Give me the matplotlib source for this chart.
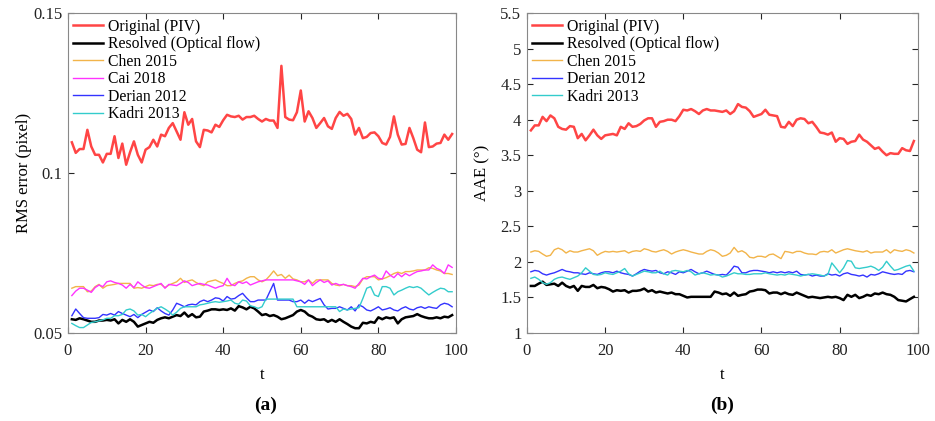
import matplotlib
matplotlib.use("Agg")
from matplotlib import pyplot as plt

plt.rcParams["font.family"] = ["Liberation Serif", "DejaVu Serif"]
plt.rcParams["font.size"] = 11

t = list(range(1, 100))

# ---- (a) RMS error ----
rms_piv = [0.1096, 0.1063, 0.1075, 0.1075, 0.1135, 0.1083, 0.1057, 0.1057, 0.1033, 0.1060,
           0.1060, 0.1115, 0.1047, 0.1092, 0.1026, 0.1065, 0.1099, 0.1057, 0.1033, 0.1073,
           0.1081, 0.1104, 0.1083, 0.1120, 0.1115, 0.1141, 0.1156, 0.1130, 0.1104, 0.1190,
           0.1151, 0.1169, 0.1099, 0.1081, 0.1135, 0.1133, 0.1127, 0.1151, 0.1144, 0.1165,
           0.1182, 0.1177, 0.1175, 0.1179, 0.1167, 0.1175, 0.1175, 0.1179, 0.1169, 0.1161,
           0.1169, 0.1164, 0.1164, 0.1141, 0.1335, 0.1175, 0.1167, 0.1165, 0.1190, 0.1258,
           0.1161, 0.1193, 0.1172, 0.1141, 0.1156, 0.1172, 0.1146, 0.1138, 0.1172, 0.1191,
           0.1179, 0.1185, 0.1169, 0.1120, 0.1141, 0.1109, 0.1113, 0.1125, 0.1127, 0.1115,
           0.1094, 0.1089, 0.1113, 0.1177, 0.1120, 0.1089, 0.1091, 0.1141, 0.1109, 0.1073,
           0.1065, 0.1158, 0.1081, 0.1083, 0.1092, 0.1094, 0.1120, 0.1104, 0.1122]
rms_of = [0.0543, 0.0541, 0.0546, 0.0543, 0.0539, 0.0535, 0.0535, 0.0539, 0.0539, 0.0541,
          0.0539, 0.0543, 0.0530, 0.0541, 0.0535, 0.0543, 0.0535, 0.0520, 0.0525, 0.0530,
          0.0535, 0.0532, 0.0541, 0.0546, 0.0549, 0.0546, 0.0551, 0.0556, 0.0553, 0.0564,
          0.0551, 0.0559, 0.0549, 0.0551, 0.0567, 0.0570, 0.0574, 0.0574, 0.0572, 0.0574,
          0.0572, 0.0577, 0.0570, 0.0584, 0.0580, 0.0574, 0.0582, 0.0577, 0.0567, 0.0556,
          0.0559, 0.0553, 0.0556, 0.0551, 0.0543, 0.0546, 0.0551, 0.0556, 0.0567, 0.0572,
          0.0567, 0.0556, 0.0551, 0.0543, 0.0541, 0.0543, 0.0535, 0.0541, 0.0535, 0.0543,
          0.0535, 0.0528, 0.0520, 0.0515, 0.0515, 0.0532, 0.0530, 0.0535, 0.0532, 0.0549,
          0.0543, 0.0549, 0.0546, 0.0549, 0.0530, 0.0543, 0.0549, 0.0551, 0.0553, 0.0559,
          0.0553, 0.0549, 0.0546, 0.0546, 0.0549, 0.0546, 0.0551, 0.0549, 0.0556]
rms_chen = [0.0640, 0.0645, 0.0645, 0.0645, 0.0629, 0.0631, 0.0645, 0.0652, 0.0640, 0.0648,
            0.0650, 0.0652, 0.0655, 0.0655, 0.0655, 0.0655, 0.0640, 0.0642, 0.0640, 0.0645,
            0.0650, 0.0648, 0.0652, 0.0652, 0.0642, 0.0650, 0.0655, 0.0660, 0.0671, 0.0658,
            0.0663, 0.0666, 0.0658, 0.0652, 0.0648, 0.0660, 0.0663, 0.0666, 0.0660, 0.0655,
            0.0648, 0.0648, 0.0655, 0.0660, 0.0663, 0.0671, 0.0676, 0.0676, 0.0666, 0.0660,
            0.0666, 0.0679, 0.0694, 0.0679, 0.0683, 0.0671, 0.0681, 0.0669, 0.0666, 0.0660,
            0.0660, 0.0666, 0.0655, 0.0666, 0.0666, 0.0666, 0.0666, 0.0655, 0.0650, 0.0648,
            0.0652, 0.0648, 0.0648, 0.0645, 0.0650, 0.0669, 0.0676, 0.0676, 0.0676, 0.0666,
            0.0669, 0.0673, 0.0679, 0.0686, 0.0690, 0.0686, 0.0692, 0.0692, 0.0694, 0.0697,
            0.0697, 0.0697, 0.0704, 0.0702, 0.0697, 0.0694, 0.0686, 0.0686, 0.0683]
rms_cai = [0.0617, 0.0631, 0.0640, 0.0640, 0.0634, 0.0627, 0.0642, 0.0650, 0.0645, 0.0660,
           0.0663, 0.0658, 0.0655, 0.0650, 0.0640, 0.0652, 0.0642, 0.0660, 0.0650, 0.0642,
           0.0640, 0.0645, 0.0650, 0.0655, 0.0640, 0.0652, 0.0650, 0.0648, 0.0655, 0.0663,
           0.0658, 0.0648, 0.0652, 0.0655, 0.0652, 0.0650, 0.0645, 0.0640, 0.0645, 0.0648,
           0.0671, 0.0652, 0.0648, 0.0660, 0.0655, 0.0660, 0.0650, 0.0655, 0.0660, 0.0663,
           0.0666, 0.0666, 0.0666, 0.0666, 0.0666, 0.0666, 0.0666, 0.0666, 0.0663, 0.0660,
           0.0652, 0.0666, 0.0648, 0.0658, 0.0666, 0.0658, 0.0663, 0.0650, 0.0655, 0.0650,
           0.0652, 0.0648, 0.0645, 0.0640, 0.0655, 0.0671, 0.0669, 0.0676, 0.0681, 0.0671,
           0.0669, 0.0694, 0.0681, 0.0673, 0.0686, 0.0676, 0.0686, 0.0679, 0.0686, 0.0692,
           0.0694, 0.0697, 0.0697, 0.0713, 0.0702, 0.0697, 0.0686, 0.0713, 0.0705]
rms_derian = [0.0554, 0.0575, 0.0561, 0.0548, 0.0546, 0.0546, 0.0546, 0.0548, 0.0558, 0.0556,
              0.0561, 0.0556, 0.0567, 0.0561, 0.0556, 0.0551, 0.0558, 0.0548, 0.0558, 0.0565,
              0.0572, 0.0567, 0.0579, 0.0569, 0.0561, 0.0556, 0.0572, 0.0593, 0.0588, 0.0582,
              0.0588, 0.0590, 0.0588, 0.0598, 0.0603, 0.0598, 0.0603, 0.0610, 0.0608, 0.0600,
              0.0614, 0.0606, 0.0608, 0.0617, 0.0624, 0.0610, 0.0598, 0.0598, 0.0603, 0.0603,
              0.0603, 0.0629, 0.0655, 0.0603, 0.0603, 0.0603, 0.0603, 0.0598, 0.0598, 0.0603,
              0.0593, 0.0603, 0.0598, 0.0603, 0.0608, 0.0588, 0.0575, 0.0577, 0.0577, 0.0582,
              0.0577, 0.0572, 0.0582, 0.0569, 0.0588, 0.0582, 0.0572, 0.0569, 0.0575, 0.0582,
              0.0572, 0.0575, 0.0579, 0.0572, 0.0569, 0.0577, 0.0582, 0.0575, 0.0572, 0.0579,
              0.0582, 0.0577, 0.0582, 0.0579, 0.0577, 0.0588, 0.0593, 0.0590, 0.0582]
rms_kadri = [0.0530, 0.0523, 0.0517, 0.0517, 0.0525, 0.0533, 0.0535, 0.0538, 0.0541, 0.0546,
             0.0546, 0.0554, 0.0554, 0.0558, 0.0572, 0.0575, 0.0569, 0.0556, 0.0558, 0.0551,
             0.0561, 0.0569, 0.0577, 0.0582, 0.0575, 0.0567, 0.0556, 0.0565, 0.0577, 0.0582,
             0.0582, 0.0582, 0.0582, 0.0588, 0.0590, 0.0593, 0.0596, 0.0598, 0.0596, 0.0598,
             0.0600, 0.0603, 0.0593, 0.0590, 0.0603, 0.0600, 0.0585, 0.0582, 0.0577, 0.0582,
             0.0606, 0.0606, 0.0606, 0.0606, 0.0606, 0.0606, 0.0606, 0.0606, 0.0582, 0.0582,
             0.0582, 0.0582, 0.0582, 0.0582, 0.0582, 0.0582, 0.0582, 0.0582, 0.0582, 0.0567,
             0.0575, 0.0572, 0.0575, 0.0577, 0.0579, 0.0608, 0.0640, 0.0645, 0.0619, 0.0614,
             0.0645, 0.0645, 0.0640, 0.0619, 0.0629, 0.0634, 0.0640, 0.0645, 0.0642, 0.0645,
             0.0640, 0.0629, 0.0619, 0.0627, 0.0634, 0.0640, 0.0638, 0.0629, 0.0629]

# ---- (b) AAE ----
aae_piv = [3.85, 3.92, 3.92, 4.04, 3.98, 4.06, 4.02, 3.90, 3.87, 3.86,
           3.91, 3.90, 3.74, 3.80, 3.71, 3.78, 3.86, 3.78, 3.73, 3.78,
           3.79, 3.80, 3.78, 3.90, 3.87, 3.95, 3.90, 3.91, 3.94, 3.99,
           4.02, 4.02, 3.90, 3.97, 3.98, 4.00, 4.00, 3.98, 4.05, 4.14,
           4.13, 4.15, 4.12, 4.08, 4.13, 4.15, 4.13, 4.13, 4.12, 4.11,
           4.13, 4.08, 4.12, 4.22, 4.18, 4.17, 4.12, 4.04, 4.06, 4.08,
           4.14, 4.07, 4.06, 4.05, 3.90, 3.89, 3.97, 3.91, 4.00, 4.02,
           4.01, 3.95, 3.97, 3.90, 3.82, 3.81, 3.79, 3.82, 3.69, 3.74,
           3.73, 3.66, 3.69, 3.70, 3.79, 3.72, 3.69, 3.64, 3.59, 3.61,
           3.55, 3.50, 3.53, 3.52, 3.52, 3.60, 3.57, 3.56, 3.70]
aae_of = [1.662, 1.662, 1.694, 1.722, 1.676, 1.685, 1.694, 1.662, 1.708, 1.662,
          1.639, 1.662, 1.593, 1.662, 1.648, 1.648, 1.676, 1.630, 1.648, 1.639,
          1.616, 1.583, 1.602, 1.593, 1.602, 1.569, 1.593, 1.593, 1.602, 1.625,
          1.583, 1.602, 1.569, 1.583, 1.569, 1.556, 1.569, 1.546, 1.546, 1.523,
          1.500, 1.509, 1.509, 1.509, 1.509, 1.509, 1.509, 1.583, 1.569, 1.546,
          1.556, 1.523, 1.569, 1.523, 1.537, 1.546, 1.583, 1.593, 1.611, 1.611,
          1.602, 1.556, 1.569, 1.569, 1.546, 1.569, 1.546, 1.537, 1.569, 1.546,
          1.523, 1.500, 1.509, 1.500, 1.491, 1.500, 1.509, 1.500, 1.509, 1.491,
          1.463, 1.537, 1.509, 1.537, 1.491, 1.509, 1.537, 1.523, 1.556, 1.546,
          1.569, 1.546, 1.537, 1.509, 1.463, 1.454, 1.444, 1.477, 1.509]
aae_chen = [2.139, 2.157, 2.148, 2.111, 2.079, 2.093, 2.171, 2.194, 2.171, 2.125,
            2.157, 2.139, 2.139, 2.157, 2.171, 2.185, 2.157, 2.093, 2.125, 2.148,
            2.139, 2.148, 2.139, 2.148, 2.157, 2.125, 2.148, 2.157, 2.148, 2.185,
            2.171, 2.148, 2.139, 2.157, 2.171, 2.148, 2.111, 2.139, 2.157, 2.171,
            2.157, 2.139, 2.125, 2.111, 2.111, 2.148, 2.171, 2.157, 2.125, 2.079,
            2.093, 2.125, 2.204, 2.139, 2.157, 2.125, 2.065, 2.056, 2.079, 2.079,
            2.065, 2.102, 2.111, 2.079, 2.046, 2.148, 2.139, 2.125, 2.148, 2.148,
            2.125, 2.111, 2.111, 2.102, 2.139, 2.148, 2.139, 2.171, 2.125, 2.148,
            2.171, 2.185, 2.171, 2.157, 2.148, 2.139, 2.157, 2.125, 2.139, 2.139,
            2.139, 2.171, 2.125, 2.171, 2.157, 2.148, 2.171, 2.157, 2.125]
aae_derian = [1.861, 1.880, 1.870, 1.833, 1.815, 1.833, 1.847, 1.870, 1.894, 1.870,
              1.861, 1.847, 1.847, 1.833, 1.824, 1.847, 1.833, 1.824, 1.847, 1.861,
              1.861, 1.847, 1.870, 1.847, 1.833, 1.824, 1.801, 1.833, 1.870, 1.894,
              1.880, 1.870, 1.880, 1.847, 1.833, 1.861, 1.847, 1.824, 1.861, 1.847,
              1.870, 1.894, 1.861, 1.833, 1.847, 1.870, 1.847, 1.824, 1.815, 1.824,
              1.815, 1.870, 1.940, 1.926, 1.847, 1.847, 1.870, 1.880, 1.880, 1.870,
              1.861, 1.847, 1.861, 1.847, 1.861, 1.847, 1.861, 1.847, 1.870, 1.824,
              1.815, 1.824, 1.801, 1.815, 1.801, 1.801, 1.833, 1.815, 1.824, 1.801,
              1.833, 1.847, 1.824, 1.815, 1.801, 1.815, 1.787, 1.824, 1.815, 1.833,
              1.861, 1.847, 1.833, 1.824, 1.833, 1.824, 1.870, 1.880, 1.861]
aae_kadri = [1.769, 1.787, 1.755, 1.708, 1.685, 1.708, 1.755, 1.778, 1.787, 1.769,
             1.755, 1.778, 1.801, 1.847, 1.917, 1.870, 1.824, 1.815, 1.824, 1.847,
             1.833, 1.824, 1.847, 1.870, 1.907, 1.833, 1.801, 1.824, 1.847, 1.870,
             1.861, 1.847, 1.847, 1.870, 1.833, 1.815, 1.870, 1.880, 1.870, 1.861,
             1.880, 1.861, 1.815, 1.833, 1.847, 1.833, 1.815, 1.824, 1.815, 1.787,
             1.801, 1.824, 1.847, 1.833, 1.833, 1.824, 1.824, 1.833, 1.833, 1.833,
             1.847, 1.833, 1.824, 1.815, 1.824, 1.815, 1.833, 1.824, 1.815, 1.801,
             1.815, 1.824, 1.833, 1.824, 1.815, 1.801, 1.824, 1.986, 1.917, 1.847,
             1.917, 2.019, 2.009, 1.917, 1.907, 1.917, 1.926, 1.940, 1.917, 1.880,
             1.926, 2.009, 1.940, 1.880, 1.894, 1.917, 1.940, 1.954, 1.870]

c_piv = "#ff4545"
c_of = "#000000"
c_chen = "#f2b44a"
c_cai = "#ff33ff"
c_derian = "#3333ff"
c_kadri = "#33cccc"
axcol = "#262626"


def style(ax):
    ax.set_xlim(0, 100)
    ax.set_xticks([0, 20, 40, 60, 80, 100])
    ax.tick_params(direction="in", top=True, right=True, length=4,
                   colors=axcol, labelsize=12, labelcolor="#222222")
    ax.tick_params(axis="x", pad=7)
    ax.tick_params(axis="y", pad=4)
    for s in ax.spines.values():
        s.set_color("#888888")
        s.set_linewidth(0.8)
    ax.set_xlabel("t", fontsize=12, labelpad=6)


def legend(ax):
    ax.legend(loc="upper left", frameon=False, fontsize=11.3, handlelength=1.9,
              handletextpad=0.3, labelspacing=0.1, borderaxespad=0.25,
              borderpad=0.1)


fig = plt.figure(figsize=(9.35, 4.21), dpi=100)
ax1 = fig.add_axes([0.0727, 0.209, 0.415, 0.760])
ax2 = fig.add_axes([0.5636, 0.209, 0.418, 0.760])

ax1.plot(t, rms_piv, color=c_piv, lw=1.8, label="Original (PIV)")
ax1.plot(t, rms_of, color=c_of, lw=1.8, label="Resolved (Optical flow)")
ax1.plot(t, rms_chen, color=c_chen, lw=1.0, label="Chen 2015")
ax1.plot(t, rms_cai, color=c_cai, lw=1.0, label="Cai 2018")
ax1.plot(t, rms_derian, color=c_derian, lw=1.0, label="Derian 2012")
ax1.plot(t, rms_kadri, color=c_kadri, lw=1.0, label="Kadri 2013")
ax1.set_ylim(0.05, 0.15)
ax1.set_yticks([0.05, 0.1, 0.15])
ax1.set_yticklabels(["0.05", "0.1", "0.15"])
ax1.set_ylabel("RMS error (pixel)", fontsize=12, labelpad=1)
style(ax1)
legend(ax1)

ax2.plot(t, aae_piv, color=c_piv, lw=1.8, label="Original (PIV)")
ax2.plot(t, aae_of, color=c_of, lw=1.8, label="Resolved (Optical flow)")
ax2.plot(t, aae_chen, color=c_chen, lw=1.0, label="Chen 2015")
ax2.plot(t, aae_derian, color=c_derian, lw=1.0, label="Derian 2012")
ax2.plot(t, aae_kadri, color=c_kadri, lw=1.0, label="Kadri 2013")
ax2.set_ylim(1, 5.5)
ax2.set_yticks([1, 1.5, 2, 2.5, 3, 3.5, 4, 4.5, 5, 5.5])
ax2.set_yticklabels(["1", "1.5", "2", "2.5", "3", "3.5", "4", "4.5", "5", "5.5"])
ax2.set_ylabel("AAE (°)", fontsize=12, labelpad=7)
style(ax2)
legend(ax2)

fig.text(0.284, 0.038, "(a)", fontsize=14, fontweight="bold", ha="center", va="center")
fig.text(0.772, 0.038, "(b)", fontsize=14, fontweight="bold", ha="center", va="center")

plt.savefig("out.png", dpi=100)
